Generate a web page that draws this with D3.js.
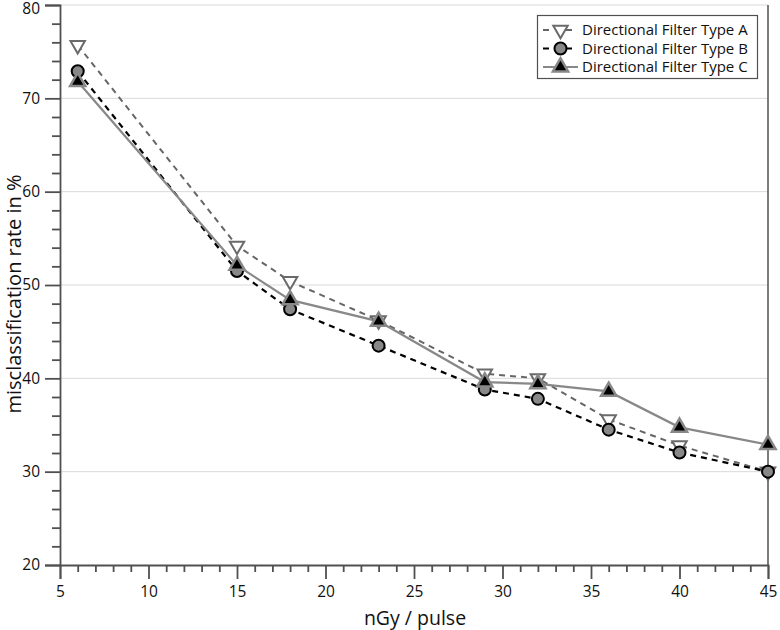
<!DOCTYPE html>
<html><head><meta charset="utf-8">
<script src="https://cdn.jsdelivr.net/npm/d3@7"></script>
<style>body{margin:0;background:#fff}svg{display:block}text{font-family:"Open Sans","Liberation Sans",sans-serif}</style>
</head><body><svg id="c" width="780" height="630"></svg>
<script>
const xValues = [6, 15, 18, 23, 29, 32, 36, 40, 45];
const typeA = [75.7, 54.2, 50.4, 46.2, 40.5, 40.0, 35.6, 32.8, 30.0];
const typeB = [72.9, 51.5, 47.4, 43.5, 38.8, 37.8, 34.5, 32.05, 30.0];
const typeC = [71.8, 52.1, 48.4, 46.1, 39.6, 39.4, 38.6, 34.75, 32.9];
const seriesNames = ["Directional Filter Type A", "Directional Filter Type B", "Directional Filter Type C"];
const xTicks = [5, 10, 15, 20, 25, 30, 35, 40, 45];
const yTicks = [20, 30, 40, 50, 60, 70, 80];

const svg = d3.select("#c");
const x = d3.scaleLinear().domain([5, 45]).range([60, 768]);
const y = d3.scaleLinear().domain([20, 80]).range([565, 5]);
const axisCol = "#505050";

// gridlines
svg.append("g").selectAll("line").data(yTicks.filter(d => d > 20)).join("line")
  .attr("x1", x(5)).attr("x2", x(45)).attr("y1", d => y(d)).attr("y2", d => y(d))
  .attr("stroke", "#d9d9d9").attr("stroke-width", 1);

// right frame line
svg.append("line").attr("x1", x(45)).attr("x2", x(45)).attr("y1", y(80)).attr("y2", y(20))
  .attr("stroke", axisCol).attr("stroke-width", 1.5);

// y axis
const yAxis = svg.append("g").attr("transform", `translate(${x(5)},0)`)
  .call(d3.axisLeft(y).tickValues(yTicks).tickSize(15).tickPadding(5).tickFormat(d3.format("d")));
svg.append("g").attr("transform", `translate(${x(5)},0)`)
  .call(d3.axisLeft(y).tickValues(d3.range(22, 80, 2).filter(d => d % 10 !== 0)).tickSize(8).tickFormat(""))
  .call(g => g.select(".domain").remove());

// x axis
svg.append("g").attr("transform", `translate(0,${y(20)})`)
  .call(d3.axisBottom(x).tickValues(xTicks).tickSize(14).tickPadding(7).tickFormat(d3.format("d")));
svg.append("g").attr("transform", `translate(0,${y(20)})`)
  .call(d3.axisBottom(x).tickValues(d3.range(6, 45, 1).filter(d => d % 5 !== 0)).tickSize(7).tickFormat(""))
  .call(g => g.select(".domain").remove());

svg.selectAll(".domain, .tick line").attr("stroke", axisCol).attr("stroke-width", 1.8);
svg.selectAll(".tick text").attr("font-size", 15.5).attr("fill", "#111");
yAxis.selectAll(".tick text").filter(d => d === 80).attr("dy", "0.55em");

// axis titles
svg.append("text").attr("x", 415).attr("y", 625).attr("text-anchor", "middle")
  .attr("font-size", 19.5).attr("fill", "#111").text("nGy / pulse");
svg.append("text").attr("transform", "translate(21,294) rotate(-90)").attr("text-anchor", "middle")
  .attr("font-size", 20).attr("fill", "#111").text("misclassification rate in %");

const triDown = d3.symbol().type(d3.symbolTriangle).size(90);
const triUp = d3.symbol().type(d3.symbolTriangle).size(100);

const styles = [
  {data: typeA, line: "#666", width: 2, dash: "6,5", draw: (g) => g.append("path").attr("d", triDown()).attr("transform", "rotate(180)").attr("fill", "#fff").attr("stroke", "#6a6a6a").attr("stroke-width", 2)},
  {data: typeB, line: "#000", width: 2.2, dash: "6,5", draw: (g) => g.append("circle").attr("r", 6).attr("fill", "#888").attr("stroke", "#000").attr("stroke-width", 2)},
  {data: typeC, line: "#888", width: 2.2, dash: null, draw: (g) => g.append("path").attr("d", triUp()).attr("fill", "#000").attr("stroke", "#888").attr("stroke-width", 2.5)}
];

const lineGen = d3.line().x(d => x(d[0])).y(d => y(d[1]));
styles.forEach(s => {
  const pts = xValues.map((v, i) => [v, s.data[i]]);
  svg.append("path").attr("d", lineGen(pts)).attr("fill", "none")
    .attr("stroke", s.line).attr("stroke-width", s.width).attr("stroke-dasharray", s.dash);
});
styles.forEach(s => {
  xValues.forEach((v, i) => {
    const g = svg.append("g").attr("transform", `translate(${x(v)},${y(s.data[i])})`);
    s.draw(g);
  });
});

// legend
const lg = svg.append("g");
lg.append("rect").attr("x", 537.5).attr("y", 15.5).attr("width", 220).attr("height", 63)
  .attr("fill", "#fff").attr("stroke", axisCol).attr("stroke-width", 1.2);
styles.forEach((s, i) => {
  const cy = 30 + i * 18.5;
  lg.append("line").attr("x1", 543).attr("x2", 578).attr("y1", cy).attr("y2", cy)
    .attr("stroke", s.line).attr("stroke-width", s.width).attr("stroke-dasharray", s.dash ? "6,17" : null)
    .attr("stroke-dashoffset", 0);
  const g = lg.append("g").attr("transform", `translate(560.5,${cy})`);
  s.draw(g);
  lg.append("text").attr("x", 582).attr("y", cy + 5).attr("font-size", 15).attr("fill", "#111").text(seriesNames[i]);
});
</script></body></html>
